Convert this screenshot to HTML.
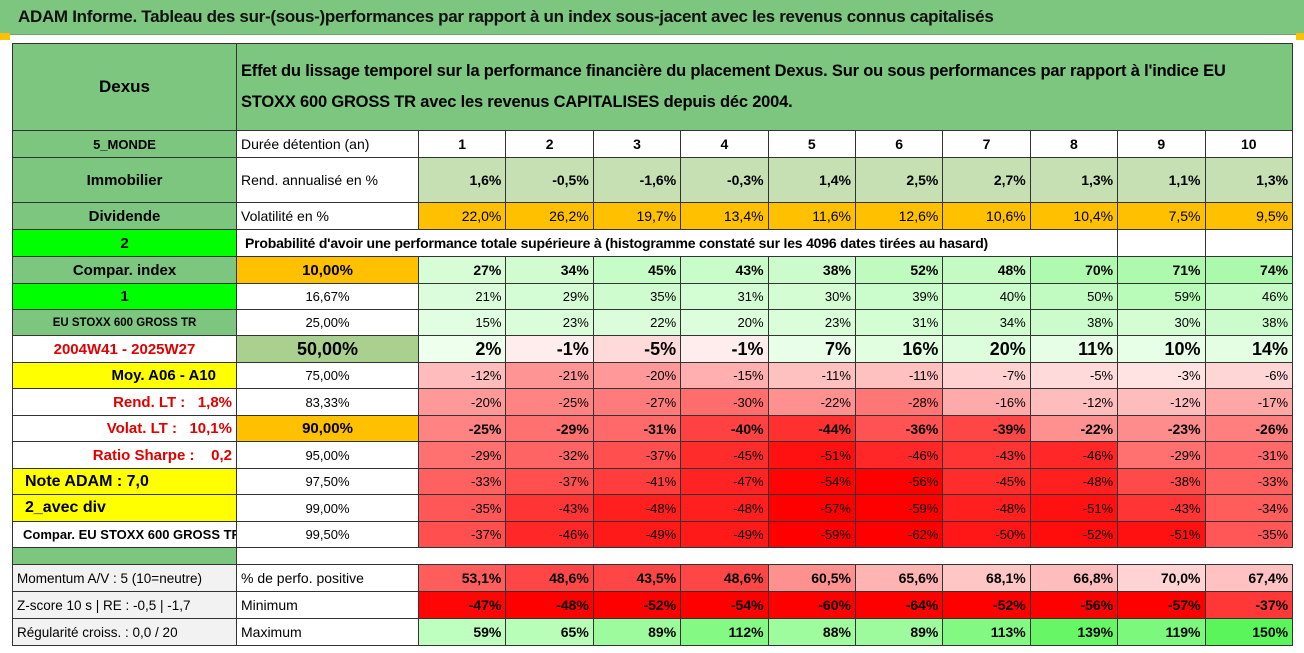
<!DOCTYPE html>
<html><head><meta charset="utf-8">
<style>
body{margin:0;width:1304px;height:653px;background:#fff;position:relative;overflow:hidden;font-family:"Liberation Sans",sans-serif;}
#title{position:absolute;left:0;top:0;width:1304px;height:34px;background:#7dc67f;border-bottom:1px solid #6aa86c;}
#title span{position:absolute;left:18px;top:7px;font-size:17px;font-weight:bold;color:#111;letter-spacing:-0.3px;}
table{position:absolute;left:12px;top:43px;width:1280px;border-collapse:collapse;table-layout:fixed;}
td{border:1px solid #333;padding:0 4px;font-size:13px;color:#000;white-space:nowrap;overflow:hidden;box-sizing:border-box;}
.g{background:#7dc67f;text-align:center;font-weight:bold;}
.bg{background:#00ff00;text-align:center;font-weight:bold;font-size:15px;}
.y{background:#ffff00;font-weight:bold;}
.r{text-align:right;}
.c{text-align:center;}
.b{font-weight:bold;}
.red{color:#e00000;font-weight:bold;text-align:right;}
.gr{background:#f2f2f2;}
</style></head><body>
<div id="title"><span>ADAM Informe. Tableau des sur-(sous-)performances par rapport à un index sous-jacent avec les revenus connus capitalisés</span></div>
<div style="position:absolute;left:0;top:33px;width:10px;height:7px;background:#ffc000"></div>
<div style="position:absolute;right:0;top:33px;width:8px;height:7px;background:#ffc000"></div>
<table id="t"></table>
<script>
const years=[1,2,3,4,5,6,7,8,9,10];
const rend=[1.6,-0.5,-1.6,-0.3,1.4,2.5,2.7,1.3,1.1,1.3];
const vol=[22.0,26.2,19.7,13.4,11.6,12.6,10.6,10.4,7.5,9.5];
const quantiles=["10,00%","16,67%","25,00%","50,00%","75,00%","83,33%","90,00%","95,00%","97,50%","99,00%","99,50%"];
const q10=[27,34,45,43,38,52,48,70,71,74];
const q16=[21,29,35,31,30,39,40,50,59,46];
const q25=[15,23,22,20,23,31,34,38,30,38];
const q50=[2,-1,-5,-1,7,16,20,11,10,14];
const q75=[-12,-21,-20,-15,-11,-11,-7,-5,-3,-6];
const q83=[-20,-25,-27,-30,-22,-28,-16,-12,-12,-17];
const q90=[-25,-29,-31,-40,-44,-36,-39,-22,-23,-26];
const q95=[-29,-32,-37,-45,-51,-46,-43,-46,-29,-31];
const q975=[-33,-37,-41,-47,-54,-56,-45,-48,-38,-33];
const q99=[-35,-43,-48,-48,-57,-59,-48,-51,-43,-34];
const q995=[-37,-46,-49,-49,-59,-62,-50,-52,-51,-35];
const pctPos=[53.1,48.6,43.5,48.6,60.5,65.6,68.1,66.8,70.0,67.4];
const minimum=[-47,-48,-52,-54,-60,-64,-52,-56,-57,-37];
const maximum=[59,65,89,112,88,89,113,139,119,150];

const heights=[87,27,45,27,27,27,26,26,27,26,27,26,27,26,27,26,17,27,27,27];
const t=document.getElementById('t');
const cg=document.createElement('colgroup');
[224,182].concat(years.map(()=>87.4)).forEach(w=>{const c=document.createElement('col');c.style.width=w+'px';cg.appendChild(c);});
t.appendChild(cg);
let ri=0;
function row(name){const tr=document.createElement('tr');tr.style.height=heights[ri++]+'px';


t.appendChild(tr);return tr;}
function cell(tr,txt,cls,name,style){const td=document.createElement('td');td.innerHTML=txt;if(cls)td.className=cls;if(style)td.style.cssText=style;


tr.appendChild(td);return td;}
function fmt(v,d){return v.toFixed(d).replace('.',',')+'%';}
function negCol(v,full){const k=Math.min(1,Math.abs(v)/full);const c=Math.round(240*(1-k));return `rgb(255,${c},${c})`;}
function posCol(v,full){const k=Math.min(1,v/full);const c=Math.round(240-150*k);return `rgb(${c},${Math.round(255-12*k)},${c})`;}
function qCol(v){return v<0?negCol(v,55):posCol(v,160);}
let tr=row('header-row');
cell(tr,'Dexus','g','fund-name','font-size:17px');
let h=cell(tr,'Effet du lissage temporel sur la performance financière du placement Dexus. Sur ou sous performances par rapport à l\'indice EU<br>STOXX 600 GROSS TR avec les revenus CAPITALISES depuis déc 2004.','g','header-description','text-align:left;font-size:16.5px;line-height:31px;letter-spacing:-0.2px;white-space:nowrap');h.colSpan=11;
tr=row('years-row');
cell(tr,'5_MONDE','g','zone-label','font-size:13px');
cell(tr,'Durée détention (an)','','years-label','font-size:14px');
years.forEach(y=>cell(tr,y,'c b','year-'+y,'font-size:14px'));
tr=row('return-row');
cell(tr,'Immobilier','g','sector-label','font-size:15px');
cell(tr,'Rend. annualisé en %','','return-label','font-size:14px');
rend.forEach((v,i)=>cell(tr,fmt(v,1),'r b','return-'+years[i],'background:#c6e0b4;font-size:14px'));
tr=row('volatility-row');
cell(tr,'Dividende','g','type-label','font-size:15px');
cell(tr,'Volatilité en %','','volatility-label','font-size:14px');
vol.forEach((v,i)=>cell(tr,fmt(v,1),'r','volatility-'+years[i],'background:#ffc000;font-size:14px'));
tr=row('probability-title-row');
cell(tr,'2','bg','selector-2');
h=cell(tr,'Probabilité d\'avoir une performance totale supérieure à (histogramme constaté sur les 4096 dates tirées au hasard)','b','probability-title','font-size:14px;padding-left:8px;letter-spacing:-0.2px');h.colSpan=9;
cell(tr,'','','blank');cell(tr,'','','blank');
const qrows=[q10,q16,q25,q50,q75,q83,q90,q95,q975,q99,q995];
const labels=[['Compar. index','g','font-size:15px'],['1','bg',''],['EU STOXX 600 GROSS TR','g','font-size:11.5px'],['2004W41 - 2025W27','','color:#e00000;font-weight:bold;text-align:center;font-size:15px'],
['Moy. A06 - A10','y','text-align:right;font-size:15px;padding-right:20px'],['Rend. LT :&nbsp;&nbsp;&nbsp;1,8%','red','font-size:15px'],['Volat. LT :&nbsp;&nbsp;&nbsp;10,1%','red','font-size:15px'],['Ratio Sharpe :&nbsp;&nbsp;&nbsp;&nbsp;0,2','red','font-size:15px'],
['Note ADAM : 7,0','y','font-size:16px;padding-left:12px'],['2_avec div','y','font-size:16px;padding-left:12px'],['Compar. EU STOXX 600 GROSS TR','b','font-size:13px;padding-left:10px']];
qrows.forEach((arr,k)=>{
 tr=row('quantile-row-'+k);
 const L=labels[k];cell(tr,L[0],L[1],'side-label-'+k,L[2]);
 let qs='font-size:13px;text-align:center';let bold=false;
 if(k==0){qs+=';background:#ffc000;font-weight:bold;font-size:15px';bold=true;}
 if(k==3){qs+=';background:#a9d08e;font-weight:bold;font-size:18px';bold=true;}
 if(k==6){qs+=';background:#ffc000;font-weight:bold;font-size:15px';bold=true;}
 cell(tr,quantiles[k],'','quantile-'+k,qs);
 arr.forEach((v,i)=>cell(tr,v+'%','r','q'+k+'-year-'+years[i],'background:'+qCol(v)+(bold?';font-weight:bold;font-size:'+(k==3?18:14)+'px':';font-size:13px')));
});
tr=row('spacer-row');
cell(tr,'','g','spacer');
h=cell(tr,'','','spacer-blank','border:none');h.colSpan=11;
tr=row('positive-row');
cell(tr,'Momentum A/V : 5 (10=neutre)','gr','momentum-label','font-size:13.5px');
cell(tr,'% de perfo. positive','','positive-label','font-size:14px');
pctPos.forEach((v,i)=>{const k=Math.max(0,Math.min(1,(72-v)/22));const c=Math.round(225-155*k);cell(tr,fmt(v,1),'r b','positive-'+years[i],`background:rgb(255,${c},${c});font-size:14px`);});
tr=row('minimum-row');
cell(tr,'Z-score 10 s | RE : -0,5 | -1,7','gr','zscore-label','font-size:13.5px');
cell(tr,'Minimum','','minimum-label','font-size:14px');
minimum.forEach((v,i)=>cell(tr,v+'%','r b','minimum-'+years[i],'background:'+negCol(v,48)+';font-size:14px'));
tr=row('maximum-row');
cell(tr,'Régularité croiss. : 0,0 / 20','gr','regularity-label','font-size:13.5px');
cell(tr,'Maximum','','maximum-label','font-size:14px');
maximum.forEach((v,i)=>{const k=Math.min(1,Math.max(0,(v-50)/100));const c=Math.round(200-110*k);cell(tr,v+'%','r b','maximum-'+years[i],`background:rgb(${c},${Math.round(255-10*k)},${c});font-size:14px`);});
</script>
</body></html>
